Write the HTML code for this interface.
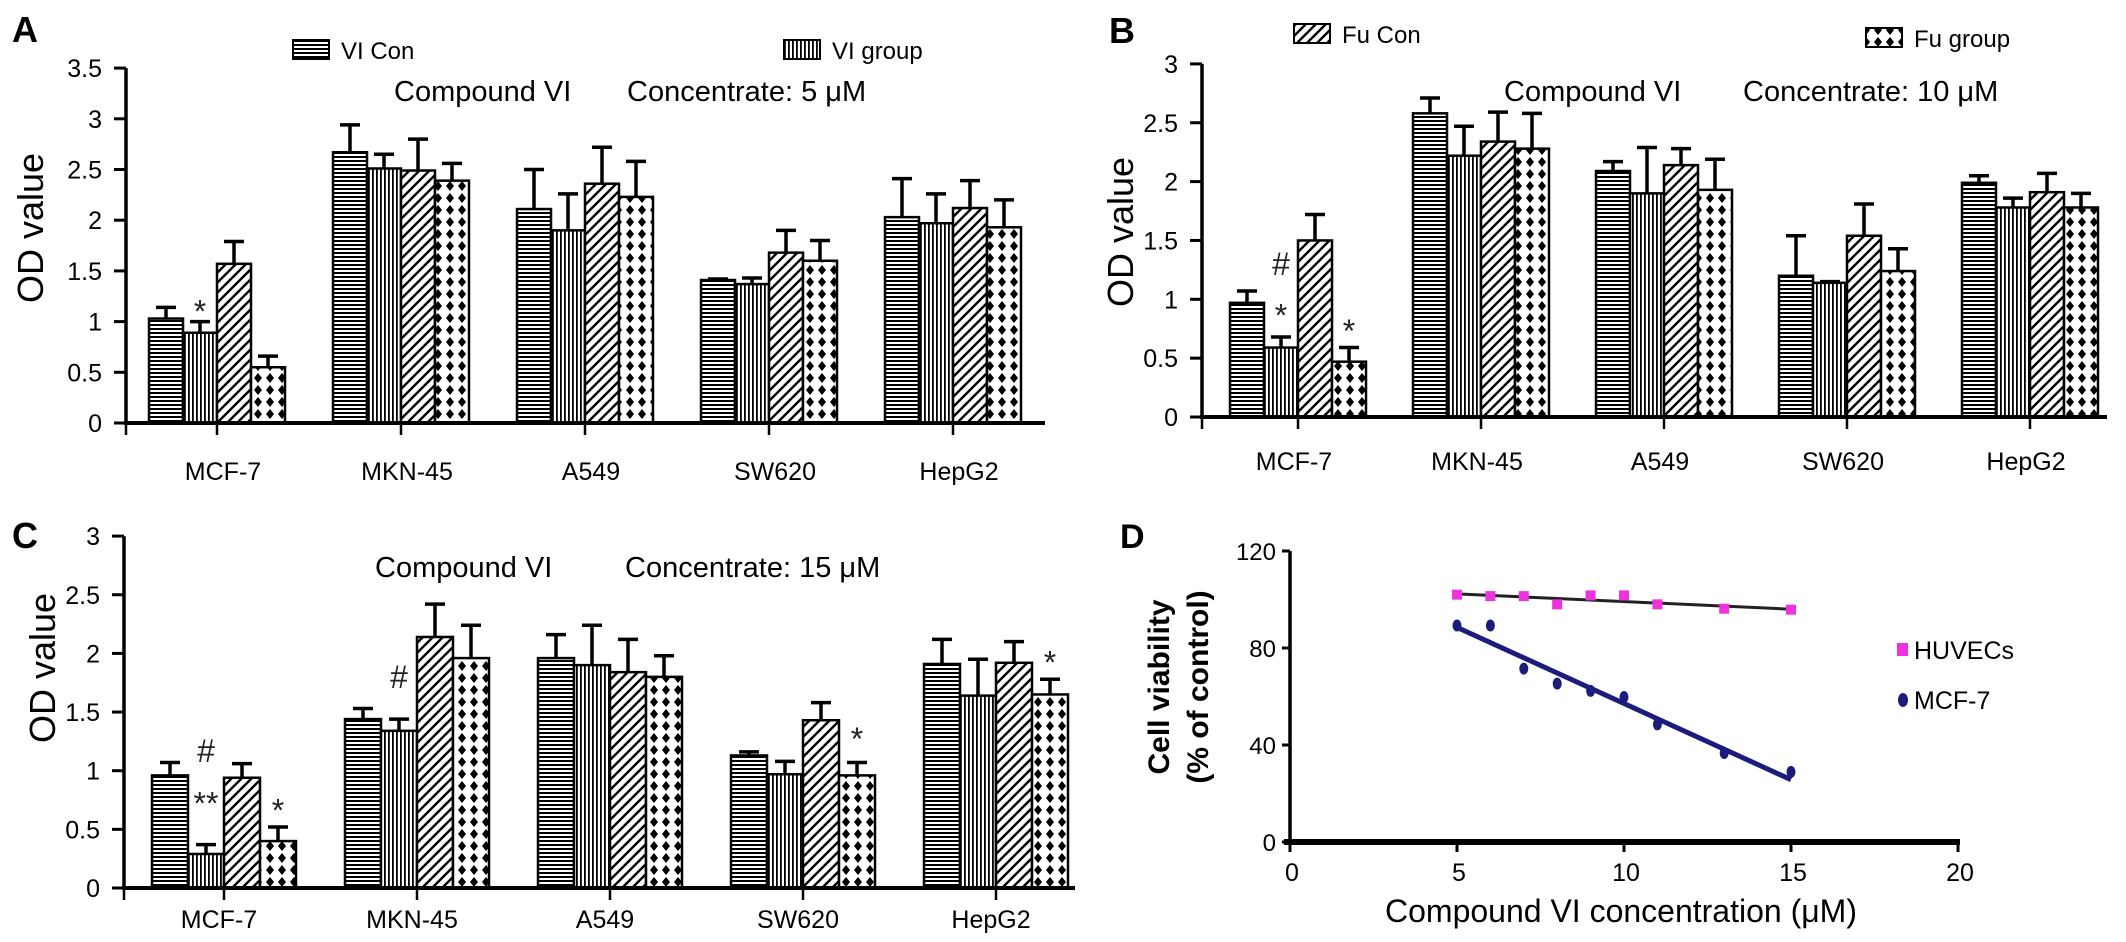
<!DOCTYPE html>
<html><head><meta charset="utf-8"><style>
html,body{margin:0;padding:0;background:#fff;}
svg{display:block;font-family:"Liberation Sans",Arial,sans-serif;}
</style></head><body>
<svg id="fig" width="2126" height="942" viewBox="0 0 2126 942" xmlns="http://www.w3.org/2000/svg">
<defs>
<pattern id="pH" width="8" height="4" patternUnits="userSpaceOnUse"><rect width="8" height="4" fill="#fff"/><rect width="8" height="2" fill="#000"/></pattern>
<pattern id="pV" width="4" height="8" patternUnits="userSpaceOnUse"><rect width="4" height="8" fill="#fff"/><rect width="1.8" height="8" fill="#000"/></pattern>
<pattern id="pD" width="10" height="10" patternUnits="userSpaceOnUse"><rect width="10" height="10" fill="#fff"/><path d="M-2,12 L12,-2 M-2,2 L2,-2 M8,12 L12,8" stroke="#000" stroke-width="2.4"/></pattern>
<pattern id="pX" width="12" height="12" patternUnits="userSpaceOnUse"><rect width="12" height="12" fill="#fff"/><path d="M6,1 L10,6 L6,11 L2,6 Z" fill="#000"/></pattern>
</defs>
</svg>
<script>
// ---- data ----
var categories = ["MCF-7","MKN-45","A549","SW620","HepG2"];
var seriesNames = ["Con1","Group1","Con2","Group2"];
var aValues = [[1.03,0.89,1.57,0.55],[2.67,2.51,2.49,2.39],[2.11,1.90,2.36,2.23],[1.41,1.37,1.68,1.60],[2.03,1.97,2.12,1.93]];
var aErrors = [[0.11,0.11,0.22,0.11],[0.27,0.14,0.31,0.17],[0.39,0.36,0.36,0.35],[0.01,0.06,0.22,0.20],[0.38,0.29,0.27,0.27]];
var bValues = [[0.97,0.59,1.50,0.47],[2.58,2.22,2.34,2.28],[2.09,1.90,2.14,1.93],[1.20,1.14,1.54,1.24],[1.99,1.78,1.91,1.78]];
var bErrors = [[0.10,0.09,0.22,0.12],[0.13,0.25,0.25,0.30],[0.08,0.39,0.14,0.26],[0.34,0.01,0.27,0.19],[0.06,0.08,0.16,0.12]];
var cValues = [[0.96,0.29,0.94,0.40],[1.44,1.34,2.14,1.96],[1.96,1.90,1.84,1.80],[1.13,0.97,1.43,0.96],[1.91,1.64,1.92,1.65]];
var cErrors = [[0.11,0.08,0.12,0.12],[0.09,0.10,0.28,0.28],[0.20,0.34,0.28,0.18],[0.03,0.11,0.15,0.11],[0.21,0.31,0.18,0.13]];
var yTicksA = [0,0.5,1,1.5,2,2.5,3,3.5];
var yTicksBC = [0,0.5,1,1.5,2,2.5,3];
var aNotes = [["*",0,1,1.18]];
var bNotes = [["#",0,1,1.30],["*",0,1,0.93],["*",0,3,0.80]];
var cNotes = [["#",0,1,1.17],["**",0,1,0.79],["*",0,3,0.73],["#",1,1,1.80],["*",3,3,1.34],["*",4,3,1.99]];
var dX = [5,6,7,8,9,10,11,13,15];
var dHuvec = [102,101.4,101.4,98,101.7,101.7,98,96.2,95.8];
var dMcf7 = [89.3,89.3,71.5,65.3,62.3,59.8,48.5,36.7,28.9];
var dXTicks = [0,5,10,15,20];
var dYTicks = [0,40,80,120];

var NS="http://www.w3.org/2000/svg";
var svg=document.getElementById('fig');
function mk(tag,attrs,parent,txt){var e=document.createElementNS(NS,tag);for(var k in attrs)e.setAttribute(k,attrs[k]);if(txt!==undefined)e.textContent=txt;(parent||svg).appendChild(e);return e;}
var fills=["url(#pH)","url(#pV)","url(#pD)","url(#pX)"];

function barPanel(cfg,values,errors,ticks,notes){
  var g=mk('g',{});
  
  
  function Y(v){return cfg.y0-v*cfg.unit;}
  function X(i){return cfg.c0+i*cfg.sp;}
  values.forEach(function(row,i){
    row.forEach(function(v,j){
      var x=X(i)-2*cfg.bw+j*cfg.bw;
      var r=mk('rect',{x:x,y:Y(v),width:cfg.bw,height:v*cfg.unit,fill:fills[j],stroke:'#000','stroke-width':2.5},g);
      
      
      var cx=x+cfg.bw/2, ye=Y(v+errors[i][j]);
      var e=mk('path',{d:'M'+cx+','+Y(v)+' V'+ye+' M'+(cx-10)+','+ye+' H'+(cx+10),stroke:'#000','stroke-width':3.5,fill:'none'},g);
      
      
    });
  });
  var ya=mk('line',{x1:cfg.axisX,y1:Y(ticks[ticks.length-1]),x2:cfg.axisX,y2:cfg.y0+2,stroke:'#000','stroke-width':3.5},g);
  
  
  var xa=mk('line',{x1:cfg.axisX-2,y1:cfg.y0,x2:cfg.xEnd,y2:cfg.y0,stroke:'#000','stroke-width':4},g);
  
  
  mk('line',{x1:cfg.axisX,y1:cfg.y0,x2:cfg.axisX,y2:cfg.y0+12,stroke:'#000','stroke-width':2.5},g);
  ticks.forEach(function(t){
    mk('line',{x1:cfg.axisX-12,y1:Y(t),x2:cfg.axisX,y2:Y(t),stroke:'#000','stroke-width':3},g);
    var tl=mk('text',{x:cfg.axisX-24,y:Y(t)+9,'text-anchor':'end','font-size':25},g,String(t));
    
    
  });
  categories.forEach(function(c,i){
    mk('line',{x1:X(i),y1:cfg.y0,x2:X(i),y2:cfg.y0+12,stroke:'#000','stroke-width':2.5},g);
    var cl=mk('text',{x:X(i)+cfg.lx,y:cfg.labelY,'text-anchor':'middle','font-size':25},g,c);
    
    
  });
  notes.forEach(function(n){
    var x=X(n[1])-2*cfg.bw+n[2]*cfg.bw+cfg.bw/2;
    var off=n[0]==='#'?11:19;
    var t=mk('text',{x:x,y:Y(n[3])+off,'text-anchor':'middle','font-size':32,fill:'#222'},g,n[0]);
    
    
  });
  var yt=mk('text',{x:0,y:0,'font-size':36,'text-anchor':'middle',transform:'translate('+cfg.titleX+','+cfg.titleY+') rotate(-90)'},g,'OD value');
  
  
  var pl=mk('text',{x:cfg.pl[0],y:cfg.pl[1],'font-size':36,'font-weight':'bold'},g,cfg.letter);
  
  
  var t1=mk('text',{x:cfg.t1x,y:cfg.ty,'font-size':29},g,'Compound VI');
  
  
  var t2=mk('text',{x:cfg.t2x,y:cfg.ty,'font-size':29},g,cfg.conc);
  
  
  (cfg.legend||[]).forEach(function(L){
    var s=mk('rect',{x:L[0],y:L[1],width:36,height:19,fill:fills[L[3]],stroke:'#000','stroke-width':2},g);
    
    
    var lt=mk('text',{x:L[0]+48,y:L[1]+19,'font-size':24},g,L[2]);
    
    
  });
}

barPanel({name:'panel-a',letter:'A',axisX:126,y0:423,unit:101.4,xEnd:1045,c0:217,sp:184,bw:34,lx:6,labelY:480,titleX:43,titleY:228,pl:[12,42],t1x:394,t2x:627,ty:101,conc:'Concentrate: 5 μM',
  legend:[[293,40,'VI Con',0],[784,40,'VI group',1]]},aValues,aErrors,yTicksA,aNotes);
barPanel({name:'panel-b',letter:'B',axisX:1202,y0:417,unit:117.7,xEnd:2107,c0:1298,sp:183,bw:34,lx:-4,labelY:470,titleX:1133,titleY:232,pl:[1109,43],t1x:1504,t2x:1743,ty:101,conc:'Concentrate: 10 μM',
  legend:[[1294,24,'Fu Con',2],[1866,28,'Fu group',3]]},bValues,bErrors,yTicksBC,bNotes);
barPanel({name:'panel-c',letter:'C',axisX:124,y0:888,unit:117.3,xEnd:1075,c0:224,sp:193,bw:36,lx:-5,labelY:928,titleX:55,titleY:668,pl:[12,548],t1x:375,t2x:625,ty:577,conc:'Concentrate: 15 μM'},cValues,cErrors,yTicksBC,cNotes);

// ---- panel D ----
(function(){
  var g=mk('g',{});
  
  
  var ax=1290, y0=842, xu=33.4, yu=97/40;
  function X(v){return ax+v*xu;}
  function Y(v){return y0-v*yu;}
  function fit(xs,ys){var n=xs.length,sx=0,sy=0,sxx=0,sxy=0;for(var i=0;i<n;i++){sx+=xs[i];sy+=ys[i];sxx+=xs[i]*xs[i];sxy+=xs[i]*ys[i];}var b=(n*sxy-sx*sy)/(n*sxx-sx*sx);return [ (sy-b*sx)/n, b];}
  var fh=fit(dX,dHuvec), fm=fit(dX,dMcf7);
  var x0=dX[0], x1=dX[dX.length-1];
  var lh=mk('line',{x1:X(x0),y1:Y(fh[0]+fh[1]*x0),x2:X(x1),y2:Y(fh[0]+fh[1]*x1),stroke:'#222','stroke-width':3},g);
  
  
  var lm=mk('line',{x1:X(x0),y1:Y(fm[0]+fm[1]*x0),x2:X(x1),y2:Y(fm[0]+fm[1]*x1),stroke:'#1c1c7c','stroke-width':5},g);
  
  
  dX.forEach(function(x,i){
    var p=mk('rect',{x:X(x)-5,y:Y(dHuvec[i])-5,width:10,height:10,fill:'#ee33dd'},g);
    
    
    var q=mk('ellipse',{cx:X(x),cy:Y(dMcf7[i]),rx:4.5,ry:6,fill:'#1c1c7c'},g);
    
    
  });
  var ya=mk('line',{x1:ax,y1:Y(120),x2:ax,y2:y0,stroke:'#000','stroke-width':3.5},g);
  
  
  var xa=mk('line',{x1:ax-6,y1:y0,x2:X(20)+2,y2:y0,stroke:'#000','stroke-width':6},g);
  
  
  dYTicks.forEach(function(t){
    mk('line',{x1:ax-8,y1:Y(t),x2:ax,y2:Y(t),stroke:'#000','stroke-width':3},g);
    var l=mk('text',{x:ax-14,y:Y(t)+9,'text-anchor':'end','font-size':24},g,String(t));
    
    
  });
  dXTicks.forEach(function(t){
    mk('line',{x1:X(t),y1:y0,x2:X(t),y2:y0+10,stroke:'#000','stroke-width':3},g);
    var l=mk('text',{x:X(t)+2,y:y0+39,'text-anchor':'middle','font-size':25},g,String(t));
    
    
  });
  var xt=mk('text',{x:1621,y:922,'text-anchor':'middle','font-size':32},g,'Compound VI concentration (μM)');
  
  
  var y1=mk('text',{x:0,y:0,'font-size':30,'font-weight':'bold','text-anchor':'middle',transform:'translate(1169,687) rotate(-90)'},g,'Cell viability');
  
  
  var y2=mk('text',{x:0,y:0,'font-size':30,'font-weight':'bold','text-anchor':'middle',transform:'translate(1208,687) rotate(-90)'},g,'(% of control)');
  
  
  var pl=mk('text',{x:1120,y:548,'font-size':34,'font-weight':'bold'},g,'D');
  
  
  var s1=mk('rect',{x:1897,y:643,width:11,height:13,fill:'#ee33dd'},g);
  
  
  var t1=mk('text',{x:1914,y:659,'font-size':25},g,'HUVECs');
  
  
  var s2=mk('ellipse',{cx:1903,cy:700,rx:5,ry:7,fill:'#1c1c7c'},g);
  
  
  var t2=mk('text',{x:1914,y:709,'font-size':25},g,'MCF-7');
  
  
})();
</script>
</body></html>
